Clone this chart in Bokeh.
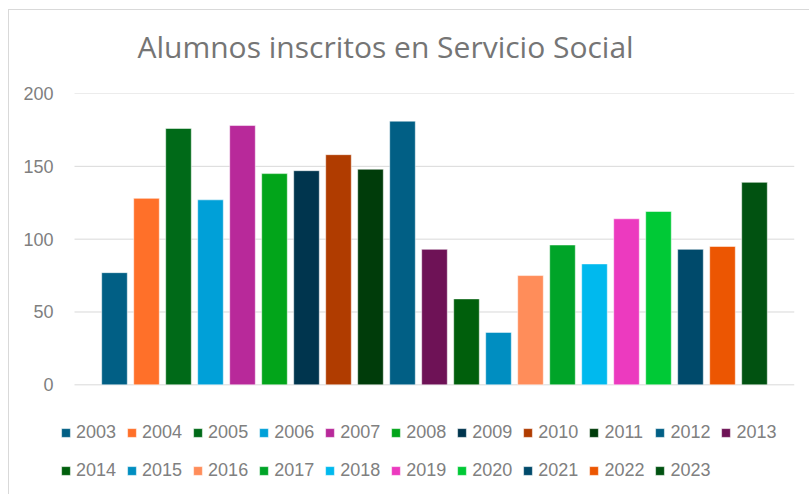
from bokeh.plotting import figure
from bokeh.models import ColumnDataSource, Range1d, Legend, LegendItem, FixedTicker
from bokeh.embed import file_html
from bokeh.resources import INLINE

years = [str(y) for y in range(2003, 2024)]
values = [77, 128, 176, 127, 178, 145, 147, 158, 148, 181, 93,
          59, 36, 75, 96, 83, 114, 119, 93, 95, 139]
colors = ["#015F85", "#FF7029", "#006A18", "#00A0D8", "#B8299A", "#02A51A",
          "#00354E", "#B03C00", "#003C0A", "#015F85", "#6E1256",
          "#005F0C", "#008EC1", "#FF8D5A", "#00A428", "#00B9EE", "#EC3ABF",
          "#00C936", "#004A6B", "#EC5602", "#015211"]
y_ticks = [0, 50, 100, 150, 200]

p = figure(width=809, height=494, output_backend="svg", toolbar_location=None,
           x_range=Range1d(-1.6875, 21.25), y_range=Range1d(-75.3, 200),
           min_border_left=60, min_border_right=15, min_border_top=93,
           min_border_bottom=0)
p.border_fill_alpha = 0
p.styles = {
    "background": ("linear-gradient(#d9d9d9, #d9d9d9) 8px 9px / 100% 1px no-repeat, "
                   "linear-gradient(#d9d9d9, #d9d9d9) 8px 9px / 1px 100% no-repeat, "
                   "white"),
}

# horizontal gridlines spanning the category area only
p.segment(x0=-1.25, x1=21.25, y0=y_ticks, y1=y_ticks,
          line_color="#d9d9d9", line_width=1)

items = []
for i, (yr, v, c) in enumerate(zip(years, values, colors)):
    src = ColumnDataSource(dict(x=[i], top=[v]))
    r = p.vbar(x="x", top="top", bottom=0, width=0.8, source=src, fill_color=c,
               line_color="white", line_alpha=0.5, line_width=1)
    items.append(LegendItem(label=yr, renderers=[r]))

p.title.text = "Alumnos inscritos en Servicio Social"
p.title.text_font = "Open Sans"
p.title.text_font_size = "30px"
p.title.text_font_style = "normal"
p.title.text_color = "#757575"
p.title.align = "left"
p.title.vertical_align = "top"
p.title.offset = 77
p.title.standoff = 50

p.outline_line_color = None
p.xaxis.visible = False
p.xgrid.grid_line_color = None
p.ygrid.grid_line_color = None
p.yaxis.ticker = FixedTicker(ticks=y_ticks)
p.yaxis.axis_line_color = None
p.yaxis.major_tick_line_color = None
p.yaxis.minor_tick_line_color = None
p.yaxis.major_label_text_font = "Liberation Sans"
p.yaxis.major_label_text_font_size = "18px"
p.yaxis.major_label_text_color = "#7f7f7f"
p.yaxis.major_label_standoff = 1

legend = Legend(items=items, orientation="horizontal", ncols=11,
                location=(0, 10), padding=0, margin=0, spacing=10,
                glyph_width=11, glyph_height=11, label_standoff=5,
                label_height=28, label_text_font="Liberation Sans",
                label_text_font_size="18px", label_text_color="#808080",
                border_line_color=None, background_fill_alpha=0)
p.add_layout(legend, "center")

open("out.html", "w").write(file_html(p, INLINE))
